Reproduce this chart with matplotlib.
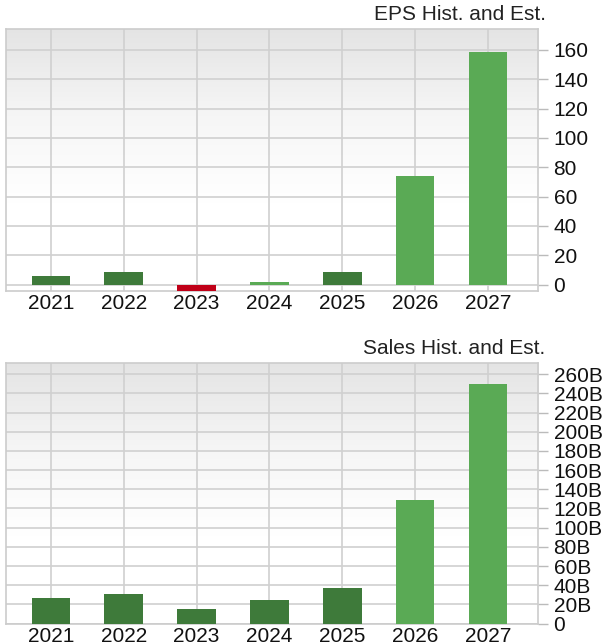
import numpy as np
import matplotlib
matplotlib.use("Agg")
import matplotlib.pyplot as plt
from matplotlib.colors import LinearSegmentedColormap

years = ["2021", "2022", "2023", "2024", "2025", "2026", "2027"]
eps_values = [6.1, 8.4, -4.5, 1.5, 8.4, 74.0, 158.4]
sales_values = [27.1, 30.6, 15.0, 24.3, 36.9, 129.0, 249.7]  # billions
is_estimate = [False, False, False, True, False, True, True]

eps_ticks = [0, 20, 40, 60, 80, 100, 120, 140, 160]
sales_ticks = [0, 20, 40, 60, 80, 100, 120, 140, 160, 180, 200, 220, 240, 260]

dark_green = '#3e7a3a'
light_green = '#5aaa55'
red = '#c00018'

plt.rcParams['font.family'] = ['Liberation Sans', 'DejaVu Sans']

fig = plt.figure(figsize=(6.04, 6.43), dpi=100)

bg_cmap = LinearSegmentedColormap.from_list('bg', ['#e4e4e4', '#f6f6f6', '#ffffff', '#ffffff'])


def style_axes(ax, ylim, ticks, labels, title):
    x = np.arange(len(years))
    ax.set_xlim(-0.62, 6.69)
    ax.set_ylim(*ylim)
    grad = np.linspace(0, 1, 256).reshape(-1, 1)
    ax.imshow(grad, cmap=bg_cmap, extent=[0, 1, 0, 1], transform=ax.transAxes,
              aspect='auto', zorder=0, origin='upper')
    ax.set_xticks(x)
    ax.set_xticklabels(years)
    ax.set_yticks(ticks)
    ax.set_yticklabels(labels)
    ax.yaxis.tick_right()
    ax.tick_params(axis='y', length=7, width=1, color='#bbbbbb', pad=4,
                   labelsize=15, labelcolor='#111111')
    ax.tick_params(axis='x', length=0, pad=2, labelsize=15, labelcolor='#111111')
    ax.grid(True, color='#d0d0d0', linewidth=1.2, zorder=1)
    ax.set_axisbelow(True)
    for s in ax.spines.values():
        s.set_color('#cccccc')
        s.set_linewidth(1.2)
    ax.text(1.014, 1.034, title, transform=ax.transAxes, ha='right', va='baseline',
            fontsize=15, color='#222222')


# EPS chart
ax1 = fig.add_axes([0.0094, 0.547, 0.8818, 0.4075])
eps_colors = []
for v, est in zip(eps_values, is_estimate):
    if v < 0:
        eps_colors.append(red)
    elif est:
        eps_colors.append(light_green)
    else:
        eps_colors.append(dark_green)
ax1.bar(np.arange(len(years)), eps_values, width=0.53, color=eps_colors, zorder=3)
style_axes(ax1, (-4.5, 174), eps_ticks, [str(t) for t in eps_ticks], 'EPS Hist. and Est.')

# Sales chart
ax2 = fig.add_axes([0.0094, 0.0295, 0.8818, 0.4064])
sales_colors = [light_green if i >= 5 else dark_green for i in range(len(years))]
ax2.bar(np.arange(len(years)), sales_values, width=0.53, color=sales_colors, zorder=3)
style_axes(ax2, (-0.5, 272), sales_ticks,
           ['0' if t == 0 else f'{t}B' for t in sales_ticks], 'Sales Hist. and Est.')

fig.savefig('out.png', dpi=100)
